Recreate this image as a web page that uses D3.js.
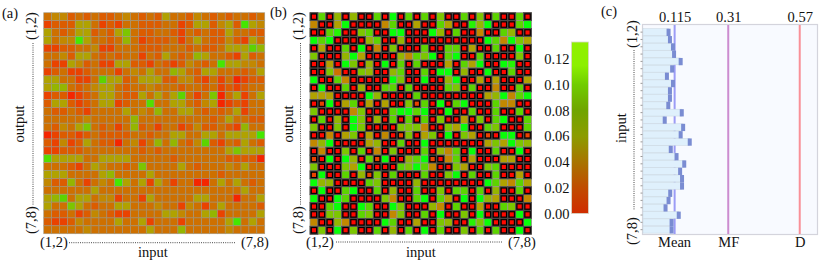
<!DOCTYPE html>
<html>
<head>
<meta charset="utf-8">
<script src="https://cdn.jsdelivr.net/npm/d3@7"></script>
<style>
body { margin: 0; background: #fff; }
text { font-family: "Liberation Serif", serif; font-size: 14.5px; fill: #111; }
</style>
</head>
<body>
<div id="chart"></div>
<script>
// values, matrices are in units of 0.01
let pairLabels = ["(1,2)", "(7,8)"];
let cbTicks = [0, 0.02, 0.04, 0.06, 0.08, 0.10, 0.12];
let cbStops = [0, 0.02, 0.04, 0.06, 0.08, 0.10, 0.115, 0.1333];
let cbColors = ["#d02c00", "#c04c00", "#a87400", "#8c9c00", "#70a400", "#70cc00", "#8cf000", "#90f000"];
let cellStops = [0, 1, 2, 3, 4, 5, 6, 7, 8, 9, 10, 12];
let cellColors = ["#ff0800", "#ea4200", "#dc5c00", "#ce7000", "#c28800", "#b0a200", "#94b600", "#7cc600", "#5cd400", "#54de00", "#44e800", "#08ff08"];

let matrixA = [
  [3,4,4,2,3,2,3,2,2,3,4,3,2,3,2,5,3,3,2,4,3,2,3,2,3,3,2,3],
  [1,2,2,2,5,5,3,1,2,1,3,3,2,2,2,3,3,1,2,5,5,2,4,5,2,10,5,4],
  [5,3,2,3,5,5,2,3,2,5,7,3,2,2,3,3,2,1,3,2,3,2,2,5,3,3,2,2],
  [5,3,4,4,10,5,3,3,2,3,6,3,1,2,2,2,3,1,3,5,3,2,2,4,2,1,5,3],
  [1,1,2,2,3,3,4,1,1,3,3,3,2,2,2,3,3,3,2,3,2,2,3,5,5,5,8,6],
  [3,3,4,2,5,5,3,2,3,2,3,3,1,3,2,5,3,2,3,6,5,3,3,2,1,5,2,3],
  [3,1,1,5,4,2,3,1,1,5,5,2,2,1,3,2,1,2,4,3,2,3,10,5,5,4,4,3],
  [1,2,3,1,1,2,3,3,3,1,3,4,3,5,3,3,6,5,3,2,5,5,3,3,3,2,3,5],
  [5,5,3,3,1,1,3,8,5,5,2,3,5,5,5,2,2,4,4,2,1,3,1,3,0.5,1,2,2],
  [5,6,6,3,2,3,4,5,5,3,2,3,3,4,3,3,3,2,3,3,2,3,1,2,1,2,3,3],
  [1,2,2,0.5,1,2,3,5,5,3,2,2,5,3,5,3,5,8,3,1,3,7,0.5,3,5,1,3,5],
  [2,5,5,2,1,2,3,5,5,1,2,3,3,9,3,3,5,5,3,2,4,5,0.5,1,2,1,3,3],
  [3,2,2,3,2,1,3,3,3,3,5,3,4,3,6,3,3,5,5,3,2,3,2,3,5,1,3,3],
  [3,3,3,3,3,4,3,3,3,3,3,6,3,3,3,3,3,3,3,3,3,2,3,5,3,3,2,2],
  [3,2,4,3,5,7,3,2,3,1,3,6,2,3,1,3,3,1,2,4,2,2,3,2,1,6,3,3],
  [0.5,1,2,2,1,2,3,2,2,2,2,3,3,2,3,3,5,5,3,3,5,5,3,5,5,5,5,10],
  [2,1,4,1,2,5,3,2,2,0.5,3,4,1,3,6,3,6,3,2,4,8,2,1,3,2,5,3,2],
  [1,1,2,2,2,3,3,3,3,3,3,3,2,3,2,3,3,3,3,3,3,3,3,5,7,5,5,5],
  [9,5,5,5,5,3,3,5,5,5,5,3,3,3,3,3,2,3,3,3,3,3,3,2,2,2,2,0.5],
  [3,3,3,2,1,3,5,4,3,3,2,3,7,3,3,3,3,5,3,2,3,3,3,4,3,5,3,3],
  [5,5,5,3,3,3,3,5,6,3,3,3,3,5,3,3,3,3,3,3,3,3,2,3,3,3,3,3],
  [4,2,2,6,3,1,3,4,3,10,5,3,5,1,5,3,1,3,3,0.5,0.5,3,5,3,5,3,2,3],
  [3,3,3,3,3,3,5,3,3,3,3,3,3,3,3,3,3,3,3,3,3,3,3,3,3,5,3,3],
  [5,6,8,3,5,5,3,4,4,1,3,3,1,5,3,3,3,3,3,5,5,3,3,3,0.5,3,3,5],
  [5,3,3,7,5,3,2,3,3,5,5,3,3,3,4,3,3,1,4,3,1,3,5,3,3,3,3,2],
  [3,2,2,3,1,2,4,3,2,1,1,3,3,3,3,5,5,4,3,3,5,6,1,3,3,3,3,5],
  [2,1,1,2,4,3,3,3,3,5,3,3,5,1,3,3,3,1,3,3,3,3,3,5,10,3,5,3],
  [3,3,3,3,3,4,3,3,3,3,3,3,3,5,3,3,3,6,3,3,3,3,3,4,3,3,3,3]
];

let matrixB = [
  [0,8,0,6,0,6,0,0,8,0,12,0,8,0,8,0,7,0,0,8,0,7,0,8,0,0,8,0],
  [4,0,0,5,12,0,0,0,0,4,8,0,0,5,0,0,8,5,0,0,11,6,12,0,0,0,8,12],
  [0,0,8,11,0,0,7,8,0,0,12,12,0,0,0,12,6,0,8,0,0,4,0,0,8,6,0,0],
  [12,8,12,0,0,0,0,6,8,0,0,6,0,0,0,0,0,0,0,0,0,0,12,8,4,12,7,5],
  [0,5,0,0,8,0,12,0,4,0,7,0,0,0,8,0,0,8,8,0,5,0,0,8,0,0,12,0],
  [7,0,0,0,6,12,5,0,0,0,0,6,4,8,7,12,0,8,12,0,0,8,0,0,0,0,7,0],
  [0,0,5,0,12,7,0,6,0,12,0,8,0,8,0,0,0,5,0,8,5,12,0,0,12,11,0,0],
  [0,0,7,3,0,0,7,6,0,0,6,8,0,0,8,0,12,12,0,6,0,0,12,0,0,8,0,0],
  [12,0,0,8,4,0,0,0,0,0,12,7,0,0,12,0,0,6,12,0,0,5,0,5,0,0,0,5],
  [0,12,0,0,8,0,6,0,0,8,8,0,8,0,0,0,0,8,7,0,8,0,0,4,0,0,8,0],
  [5,5,5,0,0,0,0,12,6,0,0,0,0,8,0,0,0,0,0,0,0,0,5,6,12,4,8,12],
  [0,1,12,0,5,8,0,5,0,5,0,0,7,1,8,0,12,0,8,12,0,0,0,8,4,4,0,0],
  [7,0,0,0,0,4,7,0,0,0,8,12,12,8,12,0,0,12,0,0,8,0,0,8,0,0,8,0],
  [0,8,0,6,0,12,7,0,6,0,8,0,8,0,8,0,7,0,0,5,0,7,0,8,12,0,0,8],
  [7,0,0,7,0,12,7,0,0,0,0,7,7,7,4,0,0,7,5,12,0,0,8,7,0,0,0,8],
  [0,0,4,0,5,7,0,5,0,4,0,1,7,0,5,7,0,12,0,7,5,0,1,0,12,12,0,1],
  [4,6,12,0,0,0,0,5,6,0,0,8,0,0,12,0,0,0,0,0,0,0,5,7,5,12,7,6],
  [0,4,0,0,7,0,8,0,4,0,7,0,0,0,8,0,6,4,8,0,12,0,0,8,0,0,12,0],
  [1,0,12,0,12,6,0,8,1,12,0,0,6,8,12,1,0,4,8,0,5,0,0,0,5,5,0,0],
  [7,0,0,0,7,5,12,0,0,0,0,8,7,12,8,4,0,0,7,5,0,0,7,8,0,0,0,0],
  [1,12,0,0,8,0,6,1,7,0,8,0,0,0,8,0,0,7,12,0,8,0,0,8,0,0,5,0],
  [12,6,6,0,0,0,0,8,7,0,0,0,0,6,0,0,0,0,0,0,0,0,12,8,5,4,8,5],
  [0,12,0,0,8,12,0,0,8,0,6,0,0,8,0,0,7,0,8,8,0,8,0,6,0,0,8,0],
  [12,0,0,12,8,0,0,0,0,7,4,0,0,8,12,0,8,5,0,12,0,12,6,5,0,0,0,4],
  [0,0,8,12,0,0,12,8,0,0,12,7,0,0,0,6,4,0,8,0,0,5,0,0,8,7,0,0],
  [0,0,7,7,0,0,8,7,0,0,4,7,0,0,8,0,12,0,0,7,0,12,0,0,0,0,12,0],
  [4,0,0,6,4,0,0,0,0,12,8,0,0,5,0,0,7,6,0,0,11,7,12,0,0,0,0,12],
  [0,7,0,12,0,7,0,0,8,0,6,0,8,0,12,0,8,0,0,7,0,8,0,8,0,0,12,0]
];

// panel (c)
let inputValues = [0.093, 0.098, 0.109, 0.113, 0.137, 0.106, 0.087, 0.109, 0.098, 0.098, 0.092, 0.141, 0.079, 0.146,
  0.137, 0.170, 0.101, 0.122, 0.150, 0.135, 0.142, 0.142, 0.099, 0.093, 0.082, 0.130, 0.104, 0.104];
let refValues = [0.115, 0.31, 0.57];
let refTickLabels = ["0.115", "0.31", "0.57"];
let refNames = ["Mean", "MF", "D"];
let refColors = ["#9c9cf6", "#cc8cd0", "#f99098"];

let svg = d3.select("#chart")
  .append("svg")
  .attr("width", 822)
  .attr("height", 262)
  .style("display", "block");

let cellColor = d3.scaleLinear().domain(cellStops).range(cellColors).clamp(true);
let indices = d3.range(28);

function addText(x, y, str, anchor, rotate) {
  let t = svg.append("text")
    .attr("text-anchor", anchor || "start")
    .text(str);
  if (rotate) {
    t.attr("transform", `translate(${x},${y}) rotate(-90)`);
  } else {
    t.attr("x", x).attr("y", y);
  }
  return t;
}

function dotted(x1, y1, x2, y2) {
  svg.append("line")
    .attr("x1", x1).attr("y1", y1)
    .attr("x2", x2).attr("y2", y2)
    .attr("stroke", "#333")
    .attr("stroke-width", 0.9)
    .attr("stroke-dasharray", "1,1.2");
}

// draws one 28x28 matrix; cells near zero get the black box
function drawMatrix(matrix, left, top, size, boxed) {
  let x = d3.scaleBand().domain(indices).range([left, left + size]);
  let y = d3.scaleBand().domain(indices).range([top, top + size]);
  let cells = matrix.flatMap((row, r) => row.map((v, c) => ({ r, c, v })));

  let g = svg.append("g");
  g.selectAll("rect.cell")
    .data(cells)
    .enter()
    .append("rect")
    .attr("class", "cell")
    .attr("x", d => x(d.c))
    .attr("y", d => y(d.r))
    .attr("width", x.bandwidth())
    .attr("height", y.bandwidth())
    .attr("fill", d => cellColor(d.v))
    .attr("stroke", "#969688")
    .attr("stroke-opacity", boxed ? 0.9 : 0.7)
    .attr("stroke-width", boxed ? 0.9 : 0.75);

  if (boxed) {
    // dark outer cell first so it sits over the grey grid
    g.selectAll("rect.outer")
      .data(cells.filter(d => d.v <= 1))
      .enter()
      .append("rect")
      .attr("class", "outer")
      .attr("x", d => x(d.c))
      .attr("y", d => y(d.r))
      .attr("width", x.bandwidth())
      .attr("height", y.bandwidth())
      .attr("fill", "#333")
      .attr("stroke", "#4a4a4a")
      .attr("stroke-width", 0.8);

    g.selectAll("rect.box")
      .data(cells.filter(d => d.v <= 1))
      .enter()
      .append("rect")
      .attr("class", "box")
      .attr("x", d => x(d.c) + 1.3)
      .attr("y", d => y(d.r) + 1.3)
      .attr("width", x.bandwidth() - 2.6)
      .attr("height", y.bandwidth() - 2.6)
      .attr("fill", d => cellColor(d.v))
      .attr("stroke", "#000")
      .attr("stroke-width", 1.1);
  }
}

drawMatrix(matrixA, 43.7, 12.7, 221, false);
drawMatrix(matrixB, 310, 12.7, 221.5, true);

// colorbar
let cbScale = d3.scaleLinear().domain([0, 0.1333]).range([213.5, 42]);
let gradient = svg.append("defs").append("linearGradient")
  .attr("id", "cbGrad")
  .attr("x1", 0).attr("x2", 0)
  .attr("y1", 1).attr("y2", 0);
gradient.selectAll("stop")
  .data(cbStops)
  .enter()
  .append("stop")
  .attr("offset", d => d / 0.1333)
  .attr("stop-color", (d, i) => cbColors[i]);

svg.append("rect")
  .attr("x", 571.5)
  .attr("y", cbScale(0.1333))
  .attr("width", 17)
  .attr("height", cbScale(0) - cbScale(0.1333))
  .attr("fill", "url(#cbGrad)")
  .attr("stroke", "#d8d8c8")
  .attr("stroke-width", 0.8);

let cbAxis = d3.axisLeft(cbScale)
  .tickValues(cbTicks)
  .tickFormat(d3.format(".2f"))
  .tickSize(0)
  .tickPadding(2);
svg.append("g")
  .attr("transform", "translate(571.5,0)")
  .call(cbAxis)
  .call(g => g.select(".domain").remove())
  .selectAll("text")
  .style("font-family", '"Liberation Serif", serif')
  .style("font-size", "14.5px");

// panel (c)
let xScale = d3.scaleLinear().domain([0, 0.635]).range([643, 817.6]);
let yBand = d3.scaleBand().domain(indices).range([28.7, 233.1]).paddingInner(0.06);

svg.append("rect")
  .attr("x", 642.5)
  .attr("y", 24.5)
  .attr("width", 175)
  .attr("height", 210)
  .attr("fill", "#f8faff")
  .attr("stroke", "#d4d4dc")
  .attr("stroke-width", 1.2);

svg.selectAll("line.ref")
  .data(refValues)
  .enter()
  .append("line")
  .attr("class", "ref")
  .attr("x1", d => xScale(d))
  .attr("x2", d => xScale(d))
  .attr("y1", 25)
  .attr("y2", 234)
  .attr("stroke", (d, i) => refColors[i])
  .attr("stroke-width", 2);

svg.selectAll("rect.bar")
  .data(inputValues)
  .enter()
  .append("rect")
  .attr("class", "bar")
  .attr("x", xScale(0))
  .attr("y", (d, i) => yBand(i))
  .attr("width", d => xScale(d) - xScale(0))
  .attr("height", yBand.bandwidth())
  .attr("fill", "#dff0fc")
  .attr("stroke", "#c8d6e0")
  .attr("stroke-width", 0.5);

svg.selectAll("rect.cap")
  .data(inputValues)
  .enter()
  .append("rect")
  .attr("class", "cap")
  .attr("x", d => xScale(d) - 2)
  .attr("y", (d, i) => yBand(i))
  .attr("width", 4)
  .attr("height", yBand.bandwidth() + 0.4)
  .attr("fill", "#7a8cd2");

let yAxis = d3.axisLeft(yBand).tickSize(2).tickFormat("");
svg.append("g")
  .attr("transform", "translate(642.5,0)")
  .call(yAxis)
  .call(g => g.select(".domain").remove())
  .selectAll("line")
  .attr("stroke", "#999");

refValues.forEach((v, i) => {
  addText(xScale(v) + 0.5, 22, refTickLabels[i], "middle");
  addText(xScale(v) + (i === 0 ? 0 : 0.5), 247, refNames[i], "middle");
});

// panel letters
addText(2, 18, "(a)");
addText(270, 17, "(b)");
addText(601, 16, "(c)");

// labels round matrix (a)
addText(36, 40, pairLabels[0], "start", true);
addText(36, 234, pairLabels[1], "start", true);
addText(24, 124, "output", "middle", true);
dotted(33, 43, 33, 205);
addText(40, 247, pairLabels[0]);
addText(241, 247, pairLabels[1]);
addText(153, 257, "input", "middle");
dotted(69, 242.7, 236, 242.7);

// labels round matrix (b)
addText(303, 40, pairLabels[0], "start", true);
addText(303, 234, pairLabels[1], "start", true);
addText(293, 124, "output", "middle", true);
dotted(300.5, 43, 300.5, 205);
addText(306, 247, pairLabels[0]);
addText(508, 247, pairLabels[1]);
addText(421, 257, "input", "middle");
dotted(336, 242, 502, 242);

// labels round panel (c)
addText(637, 48, pairLabels[0], "start", true);
addText(637, 245, pairLabels[1], "start", true);
addText(626, 128, "input", "middle", true);
dotted(634, 50, 634, 210);
</script>
</body>
</html>
